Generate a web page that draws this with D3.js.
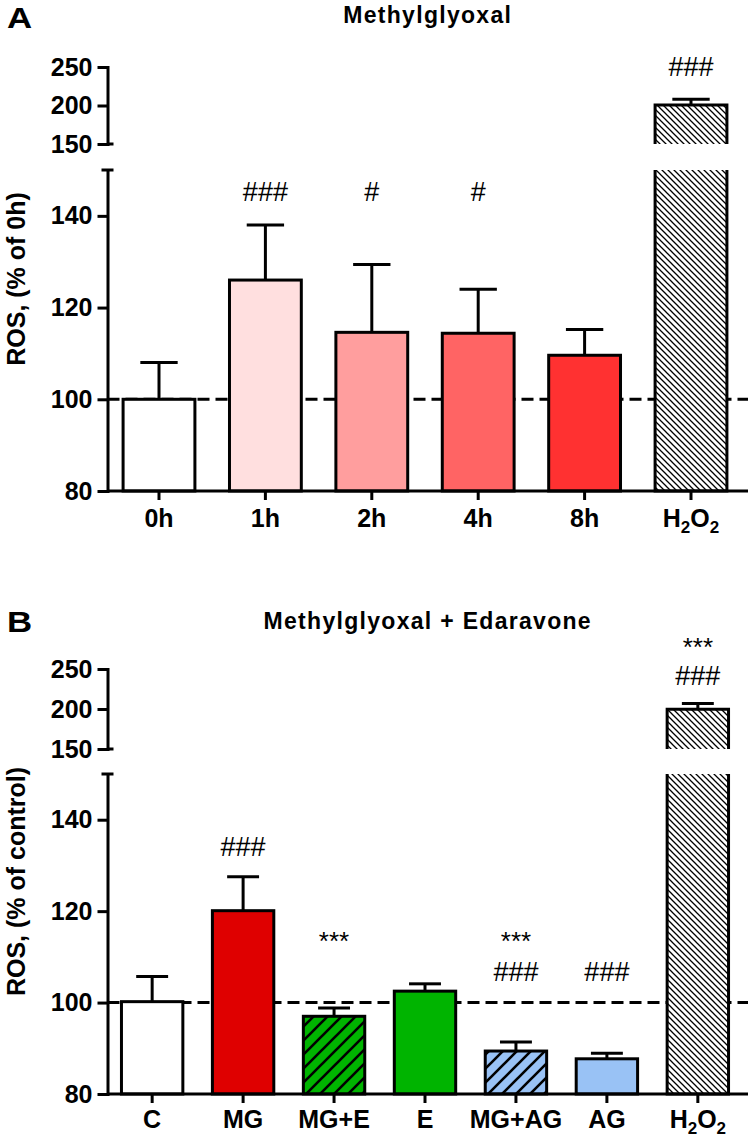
<!DOCTYPE html>
<html><head><meta charset="utf-8">
<script src="https://cdn.jsdelivr.net/npm/d3@7"></script>
<style>body{margin:0;background:#fff} svg{display:block} text{font-family:"Liberation Sans",Arial,sans-serif}</style>
</head><body>
<svg id="c" width="751" height="1139"></svg>
<script>
// ---------- data ----------
const catsA = ["0h", "1h", "2h", "4h", "8h", "H2O2"];
const meanA = [100, 126, 114.6, 114.4, 109.6, 200.5];
const semA  = [8, 12, 14.8, 9.6, 5.6, 7.5];
const annotA = [
  {cat: "1h", text: "###", level: 143.3},
  {cat: "2h", text: "#", level: 143.3},
  {cat: "4h", text: "#", level: 143.3},
  {cat: "H2O2", text: "###", level: 238}
];

const catsB = ["C", "MG", "MG+E", "E", "MG+AG", "AG", "H2O2"];
const meanB = [100.2, 120.1, 97.0, 102.5, 89.4, 87.7, 199.6];
const semB  = [5.5, 7.4, 1.8, 1.6, 2.0, 1.2, 7.4];
const annotB = [
  {cat: "MG", text: "###", level: 132},
  {cat: "MG+E", text: "***", level: 111.4},
  {cat: "MG+AG", text: "***", level: 111.4},
  {cat: "MG+AG", text: "###", level: 104.8},
  {cat: "AG", text: "###", level: 104.8},
  {cat: "H2O2", text: "***", level: 266.8},
  {cat: "H2O2", text: "###", level: 229.4}
];

const lowerTicks = [80, 100, 120, 140];
const upperTicks = [150, 200, 250];
const lowerDomain = [80, 150];
const upperDomain = [150, 250];
const refLevel = 100;

// ---------- styles ----------
const fillA = {"0h": "#ffffff", "1h": "#ffdfdf", "2h": "#ff9e9e", "4h": "#ff6464", "8h": "#ff3131", "H2O2": "url(#hatchDense)"};
const fillB = {"C": "#ffffff", "MG": "#df0000", "MG+E": "url(#hatchGreen)", "E": "#00b400", "MG+AG": "url(#hatchBlue)", "AG": "#99c2f5", "H2O2": "url(#hatchDense)"};

const svg = d3.select("#c");
const defs = svg.append("defs");
{
  const p = defs.append("pattern").attr("id", "hatchDense").attr("patternUnits", "userSpaceOnUse").attr("width", 6).attr("height", 6);
  p.append("rect").attr("width", 6).attr("height", 6).attr("fill", "#fff");
  p.append("path").attr("d", "M0,0L6,6M-1,5L1,7M5,-1L7,1").attr("stroke", "#000").attr("stroke-width", 1.3);
}
function sparse(id, col) {
  const s = 14;
  const p = defs.append("pattern").attr("id", id).attr("patternUnits", "userSpaceOnUse").attr("width", s).attr("height", s);
  p.append("rect").attr("width", s).attr("height", s).attr("fill", col);
  p.append("path").attr("d", `M0,${s}L${s},0M-3,3L3,-3M${s-3},${s+3}L${s+3},${s-3}`).attr("stroke", "#000").attr("stroke-width", 2.6);
}
sparse("hatchGreen", "#00b400");
sparse("hatchBlue", "#99c2f5");

const SW = 3;

function panel(o) {
  const g = svg.append("g");
  const x = d3.scaleBand().domain(o.cats).range(o.xRange).paddingInner(0.325).paddingOuter(0.17);
  const yL = d3.scaleLinear().domain(lowerDomain).range(o.lowRange);
  const yU = d3.scaleLinear().domain(upperDomain).range(o.upRange);
  const yv = v => v > lowerDomain[1] ? yU(v) : yL(v);
  const ax = o.axisX, right = o.axisRight;
  const bw = x.bandwidth();

  // panel letter
  g.append("text").attr("transform", `translate(7,${o.letterY}) scale(1.2,1)`)
    .attr("font-size", 29).attr("font-weight", "bold").text(o.letter);
  // title
  g.append("text").attr("x", (ax + right) / 2).attr("y", o.titleY).attr("text-anchor", "middle")
    .attr("font-size", 23).attr("font-weight", "bold").attr("letter-spacing", "1.3px").text(o.title);

  // dashed ref line
  g.append("line").attr("x1", ax).attr("x2", right).attr("y1", yL(refLevel)).attr("y2", yL(refLevel))
    .attr("stroke", "#000").attr("stroke-width", SW).attr("stroke-dasharray", "12,6");

  // bars
  o.cats.forEach((c, i) => {
    const m = o.mean[i], bx = x(c), fill = o.fill[c];
    if (m <= lowerDomain[1]) {
      g.append("rect").attr("x", bx).attr("y", yL(m)).attr("width", bw).attr("height", yL(lowerDomain[0]) - yL(m))
        .attr("fill", fill).attr("stroke", "#000").attr("stroke-width", SW);
    } else {
      const t = yU(m), b = yU(upperDomain[0]);
      g.append("rect").attr("x", bx).attr("y", t).attr("width", bw).attr("height", b - t).attr("fill", fill);
      g.append("path").attr("d", `M${bx},${b}V${t}H${bx + bw}V${b}`).attr("fill", "none").attr("stroke", "#000").attr("stroke-width", SW);
      const t2 = yL(lowerDomain[1]), b2 = yL(lowerDomain[0]);
      g.append("rect").attr("x", bx).attr("y", t2).attr("width", bw).attr("height", b2 - t2).attr("fill", fill);
      g.append("path").attr("d", `M${bx},${t2}V${b2}H${bx + bw}V${t2}`).attr("fill", "none").attr("stroke", "#000").attr("stroke-width", SW);
    }
    // error bar
    const cx = bx + bw / 2, top = yv(m + o.sem[i]), cw = bw * 0.26;
    g.append("line").attr("x1", cx).attr("x2", cx).attr("y1", yv(m)).attr("y2", top).attr("stroke", "#000").attr("stroke-width", SW);
    g.append("line").attr("x1", cx - cw).attr("x2", cx + cw).attr("y1", top).attr("y2", top).attr("stroke", "#000").attr("stroke-width", SW);
  });

  // y axes
  function styleAxis(sel) {
    sel.select(".domain").attr("stroke-width", SW).attr("stroke-linecap", "square");
    sel.selectAll(".tick line").attr("stroke-width", SW);
    sel.selectAll(".tick text").attr("font-size", 25).attr("font-weight", "bold")
      .attr("font-family", '"Liberation Sans",Arial,sans-serif').attr("fill", "#000");
  }
  g.append("g").attr("transform", `translate(${ax},0)`)
    .call(d3.axisLeft(yL).tickValues(lowerTicks).tickSize(10).tickPadding(5).tickSizeOuter(0)).call(styleAxis);
  g.append("g").attr("transform", `translate(${ax},0)`)
    .call(d3.axisLeft(yU).tickValues(upperTicks).tickSize(10).tickPadding(5).tickSizeOuter(0)).call(styleAxis);
  // break caps
  g.append("line").attr("x1", ax - 6).attr("x2", ax + 6).attr("y1", yL(lowerDomain[1])).attr("y2", yL(lowerDomain[1]))
    .attr("stroke", "#000").attr("stroke-width", SW);
  g.append("line").attr("x1", ax).attr("x2", ax + 6).attr("y1", yU(upperDomain[0])).attr("y2", yU(upperDomain[0]))
    .attr("stroke", "#000").attr("stroke-width", SW);

  // x axis
  const baseY = yL(lowerDomain[0]);
  const gx = g.append("g").attr("transform", `translate(0,${baseY})`)
    .call(d3.axisBottom(x).tickSize(9).tickSizeOuter(0));
  gx.select(".domain").remove();
  gx.append("line").attr("x1", ax).attr("x2", right).attr("stroke", "#000").attr("stroke-width", SW);
  gx.selectAll(".tick line").attr("stroke-width", SW);
  gx.selectAll(".tick text").attr("font-size", 25).attr("font-weight", "bold").attr("fill", "#000")
    .attr("font-family", '"Liberation Sans",Arial,sans-serif')
    .attr("y", o.xLabelOff).attr("dy", 0)
    .each(function (d) {
      if (d === "H2O2") {
        const t = d3.select(this).text("");
        t.append("tspan").text("H");
        t.append("tspan").attr("font-size", 17).attr("dy", 6).text("2");
        t.append("tspan").attr("dy", -6).text("O");
        t.append("tspan").attr("font-size", 17).attr("dy", 6).text("2");
      }
    });

  // y label
  const mid = (o.upRange[1] + o.lowRange[0]) / 2;
  g.append("text").attr("transform", `translate(25,${mid}) rotate(-90)`).attr("text-anchor", "middle")
    .attr("font-size", 25).attr("font-weight", "bold").text(o.yLabel);

  // annotations
  o.annot.forEach(a => {
    g.append("text").attr("x", x(a.cat) + bw / 2).attr("y", yv(a.level)).attr("text-anchor", "middle")
      .attr("font-size", a.text[0] === "*" ? 26 : 27).text(a.text);
  });
}

panel({
  letter: "A", letterY: 28, title: "Methylglyoxal", titleY: 23,
  cats: catsA, mean: meanA, sem: semA, annot: annotA, fill: fillA,
  xRange: [105, 745], axisX: 107.5, axisRight: 748,
  lowRange: [491, 170], upRange: [144, 67], xLabelOff: 36,
  yLabel: "ROS, (% of 0h)"
});
panel({
  letter: "B", letterY: 632, title: "Methylglyoxal + Edaravone", titleY: 629,
  cats: catsB, mean: meanB, sem: semB, annot: annotB, fill: fillB,
  xRange: [106, 744], axisX: 107.5, axisRight: 748,
  lowRange: [1094, 774], upRange: [749, 669], xLabelOff: 34,
  yLabel: "ROS, (% of control)"
});
</script>
</body></html>
